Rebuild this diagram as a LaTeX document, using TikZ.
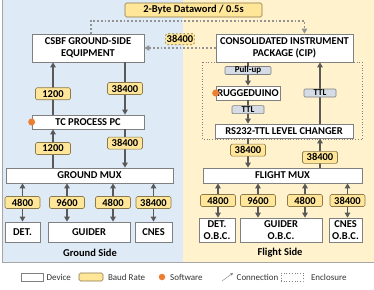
\documentclass[tikz,border=0pt]{standalone}
\usepackage{fontspec}
\setmainfont{Carlito}
\usepackage{xcolor}
\usepackage{tikz}
\usetikzlibrary{arrows.meta,positioning,calc,backgrounds}

\definecolor{groundbg}{HTML}{DEEBF7}
\definecolor{flightbg}{HTML}{FFF2CC}
\definecolor{baudfill}{HTML}{FFE699}
\definecolor{baudline}{HTML}{8C7A4A}
\definecolor{sigfill}{HTML}{D6DCE5}
\definecolor{linegray}{HTML}{595959}
\definecolor{swcolor}{HTML}{ED7D31}

\begin{document}
\begin{tikzpicture}[
  x=1pt, y=-1pt,
  font=\fontsize{10.5}{12}\selectfont\bfseries,
  device/.style={rectangle, draw=gray, fill=white, line width=0.7pt,
                 align=center, inner sep=1pt},
  baud/.style={rectangle, draw=baudline, fill=baudfill, line width=0.6pt,
               rounded corners=1.5pt, minimum width=35pt,
               minimum height=12pt, inner sep=1pt},
  signal/.style={rectangle, draw=gray, fill=sigfill, line width=0.6pt,
                 rounded corners=1pt, minimum width=32pt,
                 minimum height=8pt, inner sep=0pt,
                 font=\fontsize{9}{9}\selectfont\bfseries},
  swdot/.style={circle, fill=swcolor, minimum size=7pt, inner sep=0pt},
  arrow/.style={-{Triangle[length=5pt,width=5.5pt]}, line width=1.7pt,
                draw=linegray},
  biarrow/.style={{Triangle[length=5pt,width=5.5pt]}-{Triangle[length=5pt,width=5.5pt]},
                  line width=1.7pt, draw=linegray},
  dataline/.style={-{Triangle[length=5pt,width=5.5pt]}, line width=1.8pt,
                   draw=gray!85, dash pattern=on 1.8pt off 2pt},
  enclosure/.style={draw=gray, dotted, line width=0.7pt},
  legend/.style={font=\fontsize{9}{10}\selectfont\mdseries,
                 text=black!80, inner sep=0.5pt},
]
  \useasboundingbox (0,0) rectangle (374,289);

  % ground side
  \node[device, minimum width=112pt, minimum height=28pt] (csbf) at (88,48)
    {CSBF GROUND-SIDE\\EQUIPMENT};
  \node[device, minimum width=112pt, minimum height=14pt] (tcpc) at (88,122)
    {TC PROCESS PC};
  \node[device, minimum width=167pt, minimum height=15pt] (gmux) at (89.5,175.5)
    {GROUND MUX};
  \node[device, minimum width=35pt, minimum height=20pt] (gdet) at (22.5,232)
    {DET.};
  \node[device, minimum width=82pt, minimum height=20pt] (gguider) at (89,232)
    {GUIDER};
  \node[device, minimum width=37pt, minimum height=20pt] (gcnes) at (153.5,232)
    {CNES};
  \node[swdot] (gsw) at (tcpc.west) {};

  % flight side
  \node[device, minimum width=137pt, minimum height=28pt] (cip) at (284.5,48)
    {CONSOLIDATED INSTRUMENT\\PACKAGE (CIP)};
  \node[device, minimum width=64pt, minimum height=14pt] (rugged) at (248,93)
    {RUGGEDUINO};
  \node[device, minimum width=138pt, minimum height=14pt] (rs232) at (284,131)
    {RS232-TTL LEVEL CHANGER};
  \node[device, minimum width=159pt, minimum height=15pt] (fmux) at (282.5,175.5)
    {FLIGHT MUX};
  \node[device, minimum width=36pt, minimum height=24pt] (fdet) at (217,230)
    {DET.\\O.B.C.};
  \node[device, minimum width=82pt, minimum height=24pt] (fguider) at (281,230)
    {GUIDER\\O.B.C.};
  \node[device, minimum width=33pt, minimum height=24pt] (fcnes) at (345.5,230)
    {CNES\\O.B.C.};
  \node[swdot] (fsw) at (rugged.west) {};

  \begin{scope}[on background layer]
    \fill[groundbg] (2,-1) rectangle (183,262);
    \fill[flightbg] (183,-1) rectangle (375,262);
    \draw[gray!70, line width=0.8pt] (2,-1) -- (2,262) -- (375,262);
    \draw[enclosure] ([xshift=-13pt]cip.south west)
      rectangle ([xshift=9pt,yshift=-1pt]rs232.south east);
  \end{scope}

  \node (gside) at (90,253) {Ground Side};
  \node (fside) at (280,253) {Flight Side};

  % ground links
  \coordinate (gl) at ([xshift=-35pt]csbf.south);
  \coordinate (gr) at ([xshift=37pt]csbf.south);
  \draw[arrow] (tcpc.north -| gl) -- (gl) node[baud, pos=0.4] (b1) {1200};
  \draw[arrow] (gr) -- (tcpc.north -| gr) node[baud, midway] (b2) {38400};
  \draw[arrow] (gmux.north -| gl) -- (tcpc.south -| gl) node[baud, midway] (b3) {1200};
  \draw[arrow] (tcpc.south -| gr) -- (gmux.north -| gr) node[baud, pos=0.36] (b4) {38400};

  \coordinate (g1) at (gdet.north);
  \coordinate (g2) at ([xshift=-22pt]gguider.north);
  \coordinate (g3) at ([xshift=24pt]gguider.north);
  \coordinate (g4) at (gcnes.north);
  \foreach \c/\r/\n in {g1/4800/b5, g2/9600/b6, g3/4800/b7, g4/38400/b8}
    \draw[biarrow] (gmux.south -| \c) -- (\c) node[baud, midway] (\n) {\r};

  % flight links
  \coordinate (fl) at (rugged.north);
  \coordinate (fr) at ([xshift=35.5pt]cip.south);
  \draw[arrow] (cip.south -| fl) -- (fl) node[signal, pos=0.35, minimum width=46pt] (s1) {Pull-up};
  \draw[arrow] (rugged.south) -- (rs232.north -| fl) node[signal, pos=0.4] (s2) {TTL};
  \draw[arrow] (rs232.north -| fr) -- (fr) node[signal, midway] (s3) {TTL};
  \draw[arrow] (rs232.south -| fl) -- (fmux.north -| fl) node[baud, pos=0.4] (b9) {38400};
  \draw[arrow] (fmux.north -| fr) -- (rs232.south -| fr) node[baud, pos=0.35] (b10) {38400};

  \coordinate (f1) at ([xshift=1pt]fdet.north);
  \coordinate (f2) at ([xshift=-23pt]fguider.north);
  \coordinate (f3) at ([xshift=24pt]fguider.north);
  \coordinate (f4) at ([xshift=2pt]fcnes.north);
  \foreach \c/\r/\n in {f1/4800/b11, f2/9600/b12, f3/4800/b13, f4/38400/b14}
    \draw[biarrow] (fmux.south -| \c) -- (\c) node[baud, midway] (\n) {\r};

  % data between sides
  \node[baud, minimum width=137pt, minimum height=14pt] (dword) at (193.5,10)
    {2-Byte Dataword / 0.5s};
  \draw[dataline] ([xshift=3pt]csbf.north) -- ++(0,-13) -| ([xshift=20pt]cip.north);
  \draw[dataline] (cip.west) -- (csbf.east)
    node[baud, midway, above=3pt, minimum width=26pt, minimum height=11pt] (b0) {38400};

  % legend
  \node[device, minimum width=22pt, minimum height=8pt] (kdev) at (32,277) {};
  \node[legend, right=2.5pt of kdev] (tdev) {Device};
  \node[baud, minimum width=24pt, minimum height=8pt] (kbaud) at (91,277) {};
  \node[legend, right=4pt of kbaud] (tbaud) {Baud Rate};
  \node[swdot, minimum size=6.5pt] (ksw) at (162,277) {};
  \node[legend, right=4pt of ksw] (tsw) {Software};
  \coordinate (kc1) at (222,281);
  \coordinate (kc2) at (233,273);
  \draw[-{Triangle[length=2.5pt,width=2.5pt]}, gray, line width=0.4pt] (kc1) -- (kc2);
  \node[legend, anchor=west] (tconn) at (236,277) {Connection};
  \node[enclosure, minimum width=22pt, minimum height=8pt] (kenc) at (292,277) {};
  \node[legend, right=7pt of kenc] (tenc) {Enclosure};
\end{tikzpicture}
\end{document}
